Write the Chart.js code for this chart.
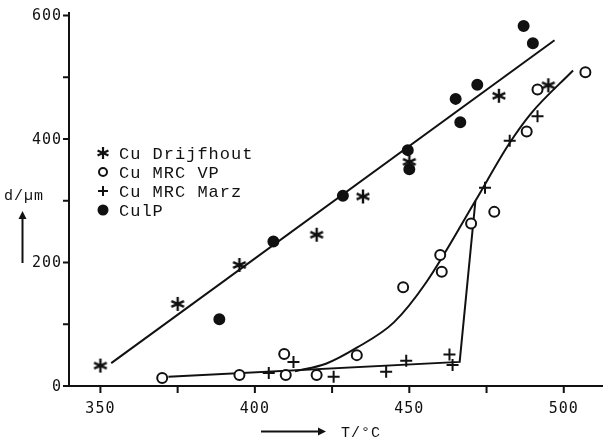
<!DOCTYPE html>
<html>
<head>
<meta charset="utf-8">
<script src="https://cdn.jsdelivr.net/npm/chart.js@4"></script>
<style>
  html, body { margin: 0; background: #fff; }
</style>
</head>
<body>
<canvas id="growthChart" width="613" height="443"></canvas>
<script>
//*************************************   DATA   *************************************
// axis ticks
const tempTicks = [350, 400, 450, 500];
const tempMinorTicks = [375, 425, 475];
const sizeTicks = [0, 200, 400, 600];
const sizeMinorTicks = [100, 300, 500];

// Cu Drijfhout
const drijfhoutT = [350, 375, 395, 420, 435, 450, 479, 495];
const drijfhoutD = [33, 133, 196, 245, 307, 363, 470, 487];
// Cu MRC VP
const vpT = [370, 395, 410, 409.5, 420, 433, 448, 460, 460.5, 470, 477.5, 488, 491.5, 507];
const vpD = [13, 18, 18, 52, 18, 50, 160, 212, 185, 263, 282, 412, 480, 508];
// Cu MRC Marz
const marzT = [404.5, 412.5, 425.5, 442.5, 449, 463, 464, 474.5, 482.5, 491.5];
const marzD = [21, 39, 15, 23, 41, 51, 34, 321, 397, 437];
// CulP
const culpT = [388.5, 406, 428.5, 449.5, 450, 465, 466.5, 472, 487, 490];
const culpD = [108, 234, 308, 382, 351, 465, 427, 488, 583, 555];

// hand-drawn trend lines
const upperLineT = [353.5, 497];
const upperLineD = [37, 560];
const vpCurveT = [413, 423, 433, 445, 455.5, 471.4, 482, 489.5, 503];
const vpCurveD = [24, 36, 62, 103, 168, 300, 390, 442, 511];
const marzLineT = [372, 466.3, 471.4];
const marzLineD = [15, 39, 300];

const ink = '#111';

//*************************************   HELPERS   *************************************
const toPoints = (xs, ys) => xs.map((x, i) => ({x: x, y: ys[i]}));

// typewriter style asterisk used as a point style
function makeAsterisk(size, width) {
  const c = document.createElement('canvas');
  c.width = size;
  c.height = size;
  const g = c.getContext('2d');
  g.strokeStyle = ink;
  g.lineWidth = width;
  const r = size / 2 - 1;
  [90, 25, 155].forEach(a => {
    const rad = a * Math.PI / 180;
    g.beginPath();
    g.moveTo(size / 2 - r * Math.cos(rad), size / 2 - r * Math.sin(rad));
    g.lineTo(size / 2 + r * Math.cos(rad), size / 2 + r * Math.sin(rad));
    g.stroke();
  });
  return c;
}
const asterisk = makeAsterisk(16, 2.4);
const asteriskSmall = makeAsterisk(14, 2.2);

const markerDataset = (label, pts, style) => Object.assign({
  label: label,
  data: pts,
  showLine: false,
  borderColor: ink,
  backgroundColor: ink,
  borderWidth: 2,
  order: 0
}, style);

const lineDataset = (label, pts, style) => Object.assign({
  label: label,
  data: pts,
  showLine: true,
  pointRadius: 0,
  borderColor: ink,
  borderWidth: 2,
  fill: false,
  order: 1
}, style);

const legendRows = [
  {text: 'Cu Drijfhout', style: {pointStyle: asteriskSmall, radius: 7}, fill: ink},
  {text: 'Cu MRC VP', style: {pointStyle: 'circle', radius: 4}, fill: '#fff'},
  {text: 'Cu MRC Marz', style: {pointStyle: 'cross', radius: 5}, fill: ink},
  {text: 'CulP', style: {pointStyle: 'circle', radius: 4.5}, fill: ink}
];

//*************************************   PLUGIN   *************************************
// axes drawn by hand so they look like the paper figure
const paperAxes = {
  id: 'paperAxes',
  beforeDatasetsDraw(chart) {
    const ctx = chart.ctx;
    const xs = chart.scales.x, ys = chart.scales.y;
    const y0 = ys.getPixelForValue(0);
    const xLeft = chart.chartArea.left;
    ctx.save();
    ctx.strokeStyle = ink;
    ctx.lineWidth = 2;
    ctx.beginPath();
    ctx.moveTo(xLeft - 6, y0);
    ctx.lineTo(chart.chartArea.right, y0);
    ctx.moveTo(xLeft, y0);
    ctx.lineTo(xLeft, chart.chartArea.top);
    tempTicks.concat(tempMinorTicks).forEach(t => {
      const px = xs.getPixelForValue(t);
      ctx.moveTo(px, y0);
      ctx.lineTo(px, y0 + 7);
    });
    sizeTicks.concat(sizeMinorTicks).forEach(d => {
      const py = ys.getPixelForValue(d);
      ctx.moveTo(xLeft - 6, py);
      ctx.lineTo(xLeft, py);
    });
    ctx.stroke();

    ctx.fillStyle = ink;
    ctx.font = '15px "DejaVu Sans Mono"';
    ctx.letterSpacing = '1px';
    ctx.textBaseline = 'middle';
    ctx.textAlign = 'center';
    tempTicks.forEach(t => ctx.fillText(String(t), xs.getPixelForValue(t), y0 + 23));
    ctx.textAlign = 'right';
    sizeTicks.forEach(d => ctx.fillText(String(d), xLeft - 7, ys.getPixelForValue(d) + 1));

    // axis titles with arrows
    ctx.textAlign = 'left';
    ctx.font = '15px "Liberation Mono"';
    ctx.fillText('d/\u00b5m', 4, 196);
    ctx.fillText('T/\u00b0C', 341, 433);
    ctx.beginPath();
    ctx.moveTo(22.5, 263);
    ctx.lineTo(22.5, 215);
    ctx.moveTo(261, 431.5);
    ctx.lineTo(322, 431.5);
    ctx.stroke();
    ctx.beginPath();
    ctx.moveTo(22.5, 211);
    ctx.lineTo(18.5, 219);
    ctx.lineTo(26.5, 219);
    ctx.closePath();
    ctx.moveTo(326, 431.5);
    ctx.lineTo(318, 427.5);
    ctx.lineTo(318, 435.5);
    ctx.closePath();
    ctx.fill();
    ctx.restore();
  },
  afterDraw(chart) {
    const ctx = chart.ctx;
    ctx.save();
    ctx.font = '17px "Liberation Mono"';
    ctx.letterSpacing = '1px';
    ctx.textBaseline = 'middle';
    ctx.textAlign = 'left';
    legendRows.forEach((row, i) => {
      const y = 153 + i * 19;
      ctx.strokeStyle = ink;
      ctx.fillStyle = row.fill;
      ctx.lineWidth = 2;
      Chart.helpers.drawPoint(ctx, Object.assign({rotation: 0, borderWidth: 2}, row.style), 103, y);
      ctx.fillStyle = ink;
      ctx.fillText(row.text, 119, y + 1);
    });
    ctx.restore();
  }
};

//*************************************   CHART   *************************************
const growthChart = new Chart(document.getElementById('growthChart').getContext('2d'), {
  type: 'scatter',
  data: {
    datasets: [
      markerDataset('Cu Drijfhout', toPoints(drijfhoutT, drijfhoutD), {pointStyle: asterisk, pointRadius: 8}),
      markerDataset('Cu MRC VP', toPoints(vpT, vpD), {pointStyle: 'circle', pointRadius: 5, backgroundColor: '#fff'}),
      markerDataset('Cu MRC Marz', toPoints(marzT, marzD), {pointStyle: 'cross', pointRadius: 6}),
      markerDataset('CulP', toPoints(culpT, culpD), {pointStyle: 'circle', pointRadius: 5}),
      lineDataset('upper trend', toPoints(upperLineT, upperLineD), {}),
      lineDataset('VP trend', toPoints(vpCurveT, vpCurveD), {cubicInterpolationMode: 'monotone'}),
      lineDataset('Marz trend', toPoints(marzLineT, marzLineD), {})
    ]
  },
  options: {
    responsive: false,
    animation: false,
    devicePixelRatio: 1,
    layout: {padding: {left: 69, right: 0, top: 12, bottom: 57}},
    scales: {
      x: {type: 'linear', min: 339.83, max: 512.7, display: false},
      y: {type: 'linear', min: 0, max: 605.7, display: false}
    },
    plugins: {
      legend: {display: false},
      tooltip: {enabled: false}
    }
  },
  plugins: [paperAxes]
});
</script>
</body>
</html>
